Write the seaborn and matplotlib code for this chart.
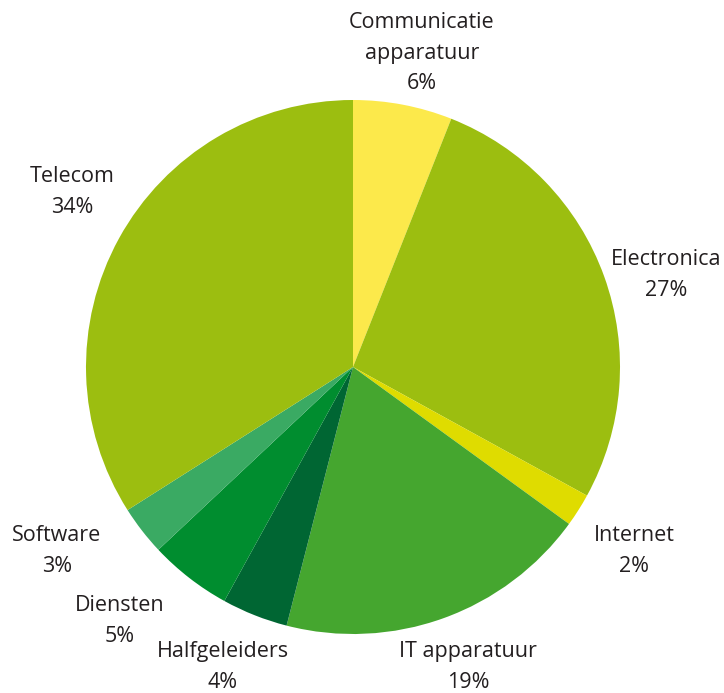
import matplotlib
matplotlib.use("Agg")
import matplotlib.pyplot as plt
import seaborn as sns

# Market share by sector
sectors = ["Communicatie\napparatuur", "Electronica", "Internet", "IT apparatuur",
           "Halfgeleiders", "Diensten", "Software", "Telecom"]
shares = [6, 27, 2, 19, 4, 5, 3, 34]
colors = ["#FCE94B", "#9CBE10", "#DFDC00", "#45A62F",
          "#006633", "#008D2F", "#3AAA63", "#9CBE10"]

# Label anchor points (pixel coordinates of each label block's centre)
label_px = [(422, 53), (666, 275), (634, 551), (468, 667),
            (223, 667), (120, 621), (57, 551), (72, 192)]

sns.set_style("white")
plt.rcParams["font.family"] = ["Open Sans", "DejaVu Sans"]

W, H = 724, 693
fig = plt.figure(figsize=(W / 100, H / 100), dpi=100)
cx, cy, r = 353, 367, 267
ax = fig.add_axes([(cx - r) / W, (H - cy - r) / H, 2 * r / W, 2 * r / H])
ax.pie(shares, colors=colors, startangle=90, counterclock=False,
       wedgeprops=dict(linewidth=0))
ax.set_xlim(-1, 1)
ax.set_ylim(-1, 1)
ax.set_aspect("equal")
ax.axis("off")

for name, val, (px, py) in zip(sectors, shares, label_px):
    fig.text(px / W, 1 - py / H, f"{name}\n{val}%", ha="center", va="center",
             fontsize=15.5, color="#231F20", linespacing=1.58)

fig.savefig("out.png", dpi=100)
